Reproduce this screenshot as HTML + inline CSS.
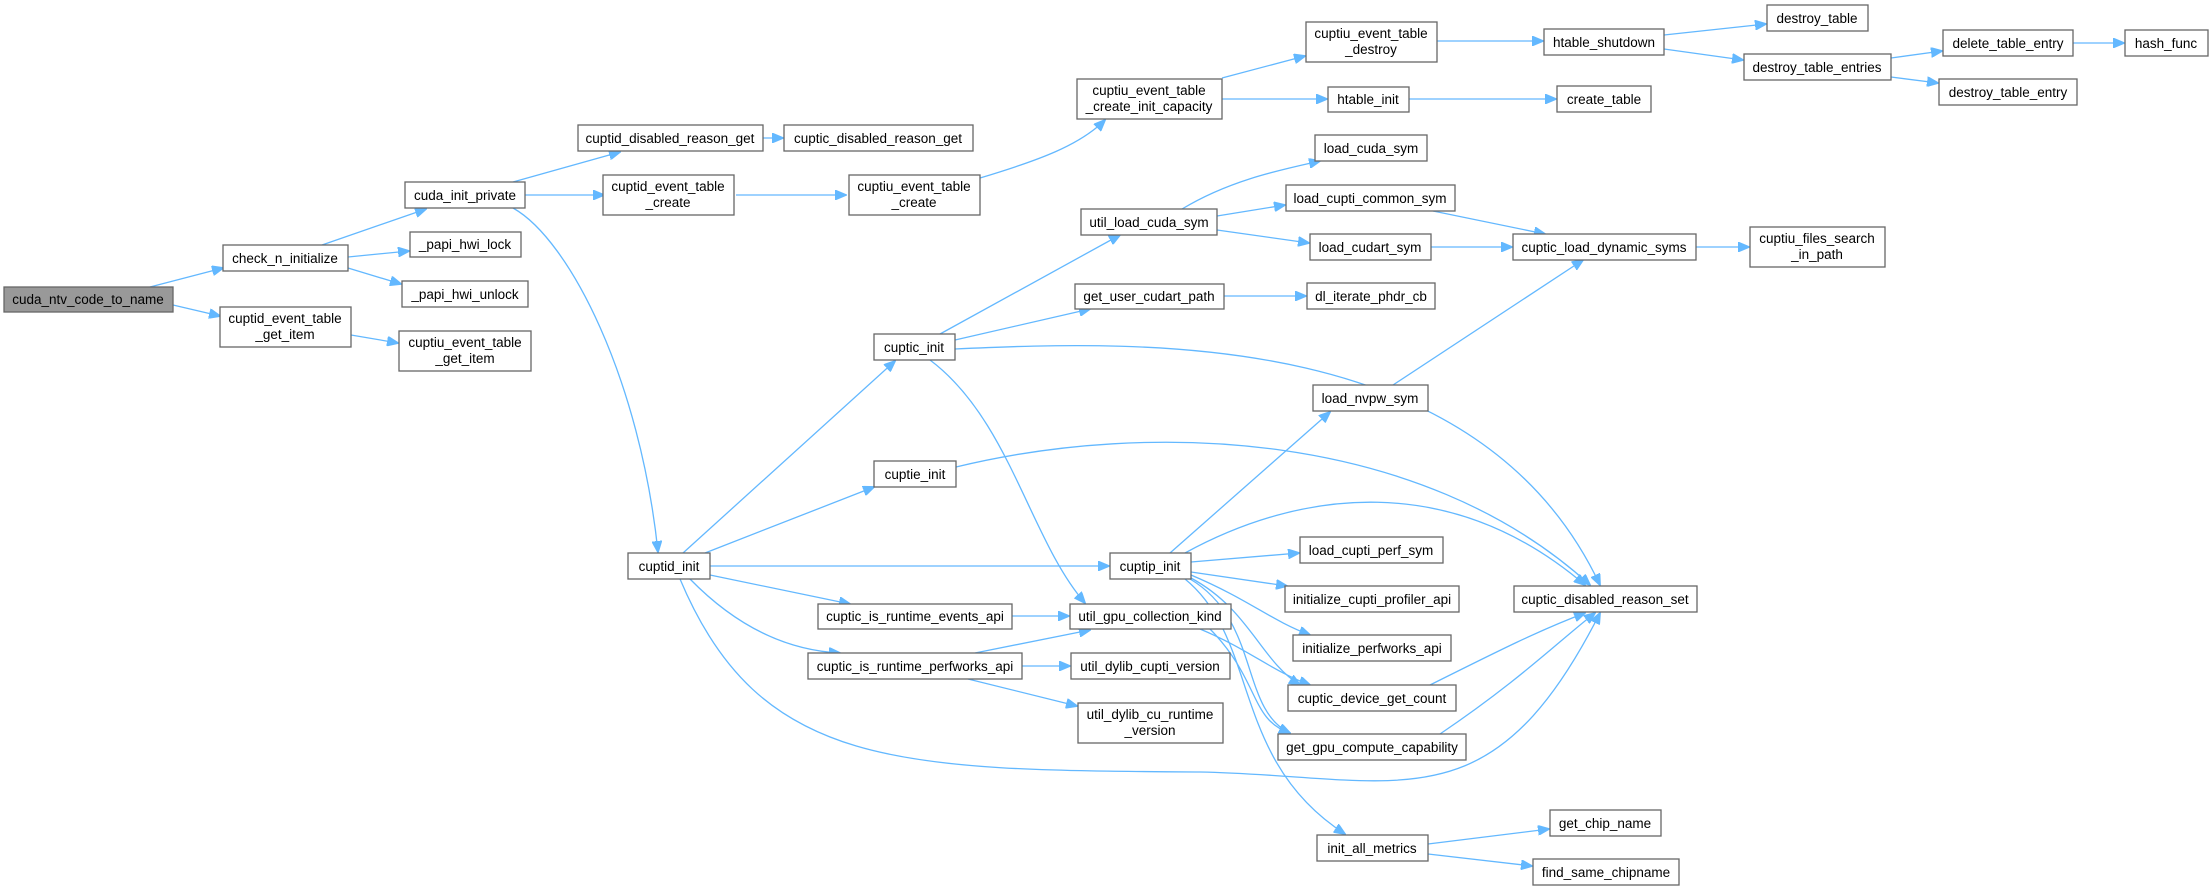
<!DOCTYPE html>
<html><head><meta charset="utf-8"><style>
html,body{margin:0;padding:0;background:#fff;}
svg{display:block;}
text{font-family:"Liberation Sans",Arial,sans-serif;font-size:13.5px;fill:#000;text-anchor:middle;}
.n rect{fill:#fff;stroke:#666;stroke-width:1.3;}
.e{fill:none;stroke:#63b8ff;stroke-width:1.3;marker-end:url(#a);}
</style></head><body>
<svg width="2211" height="891" viewBox="0 0 2211 891" xmlns="http://www.w3.org/2000/svg">
<defs><marker id="a" markerWidth="12" markerHeight="10" refX="11" refY="5" orient="auto" markerUnits="userSpaceOnUse"><path d="M0,0 L12,5 L0,10 z" fill="#63b8ff" stroke="#63b8ff"/></marker></defs>
<g>
<path class="e" d="M150,287 L223,268"/>
<path class="e" d="M173,305 L220,316"/>
<path class="e" d="M322,245 L426,209"/>
<path class="e" d="M348,257 L409,251"/>
<path class="e" d="M348,268 L401,284"/>
<path class="e" d="M351,335 L398,343"/>
<path class="e" d="M513,182 L620,152"/>
<path class="e" d="M525,195 L604,195"/>
<path class="e" d="M513,208 C570,240 640,380 658,552"/>
<path class="e" d="M763,138 L783,138"/>
<path class="e" d="M736,195 L846,195"/>
<path class="e" d="M980,178 C1040,160 1080,145 1105,120"/>
<path class="e" d="M1222,78 L1305,56"/>
<path class="e" d="M1222,99 L1327,99"/>
<path class="e" d="M1437,41 L1543,41"/>
<path class="e" d="M1409,99 L1556,99"/>
<path class="e" d="M1664,35 L1766,24"/>
<path class="e" d="M1664,49 L1743,60"/>
<path class="e" d="M1891,58 L1942,51"/>
<path class="e" d="M1891,77 L1938,83"/>
<path class="e" d="M2073,43 L2124,43"/>
<path class="e" d="M1182,209 C1230,180 1280,170 1320,161"/>
<path class="e" d="M1217,216 L1285,205"/>
<path class="e" d="M1217,230 L1309,243"/>
<path class="e" d="M1433,211 L1545,234"/>
<path class="e" d="M1431,247 L1512,247"/>
<path class="e" d="M1696,247 L1749,247"/>
<path class="e" d="M1224,296 L1306,296"/>
<path class="e" d="M1393,385 L1583,260"/>
<path class="e" d="M940,334 L1120,235"/>
<path class="e" d="M955,340 L1090,309"/>
<path class="e" d="M955,349 C1150,340 1480,330 1600,585"/>
<path class="e" d="M930,360 C1010,420 1030,540 1085,603"/>
<path class="e" d="M683,553 L895,361"/>
<path class="e" d="M705,553 L874,487"/>
<path class="e" d="M710,566 L1109,566"/>
<path class="e" d="M710,575 L850,604"/>
<path class="e" d="M690,579 C730,620 780,650 840,653"/>
<path class="e" d="M680,579 C760,770 900,770 1200,772 C1400,776 1490,830 1600,613"/>
<path class="e" d="M956,467 C1150,420 1420,430 1590,585"/>
<path class="e" d="M1170,553 L1330,412"/>
<path class="e" d="M1185,553 C1300,490 1450,470 1585,585"/>
<path class="e" d="M1191,562 L1299,553"/>
<path class="e" d="M1191,572 L1287,586"/>
<path class="e" d="M1191,575 C1250,600 1270,620 1310,635"/>
<path class="e" d="M1191,578 C1250,610 1260,660 1300,685"/>
<path class="e" d="M1190,579 C1260,620 1240,710 1290,733"/>
<path class="e" d="M1185,579 C1260,640 1230,760 1345,834"/>
<path class="e" d="M1012,616 L1069,616"/>
<path class="e" d="M975,653 L1090,630"/>
<path class="e" d="M1022,666 L1070,666"/>
<path class="e" d="M968,679 L1077,706"/>
<path class="e" d="M1200,629 C1250,650 1270,670 1310,685"/>
<path class="e" d="M1210,629 C1260,680 1250,720 1290,733"/>
<path class="e" d="M1430,685 C1500,650 1540,630 1585,613"/>
<path class="e" d="M1440,734 C1520,680 1560,640 1595,613"/>
<path class="e" d="M1428,844 L1549,829"/>
<path class="e" d="M1428,854 L1532,866"/>
</g>
<g class="n"><rect x="4" y="287" width="169" height="25" style="fill:#999"/><text x="88" y="304">cuda_ntv_code_to_name</text></g>
<g class="n"><rect x="223" y="245" width="125" height="26"/><text x="285" y="263">check_n_initialize</text></g>
<g class="n"><rect x="220" y="307" width="131" height="40"/><text x="285" y="323">cuptid_event_table</text><text x="285" y="339">_get_item</text></g>
<g class="n"><rect x="405" y="182" width="120" height="26"/><text x="465" y="200">cuda_init_private</text></g>
<g class="n"><rect x="410" y="232" width="111" height="25"/><text x="465" y="249">_papi_hwi_lock</text></g>
<g class="n"><rect x="402" y="281" width="126" height="26"/><text x="465" y="299">_papi_hwi_unlock</text></g>
<g class="n"><rect x="399" y="331" width="132" height="40"/><text x="465" y="347">cuptiu_event_table</text><text x="465" y="363">_get_item</text></g>
<g class="n"><rect x="578" y="125" width="185" height="26"/><text x="670" y="143">cuptid_disabled_reason_get</text></g>
<g class="n"><rect x="603" y="175" width="131" height="40"/><text x="668" y="191">cuptid_event_table</text><text x="668" y="207">_create</text></g>
<g class="n"><rect x="784" y="125" width="189" height="26"/><text x="878" y="143">cuptic_disabled_reason_get</text></g>
<g class="n"><rect x="849" y="175" width="131" height="40"/><text x="914" y="191">cuptiu_event_table</text><text x="914" y="207">_create</text></g>
<g class="n"><rect x="1077" y="79" width="145" height="40"/><text x="1149" y="95">cuptiu_event_table</text><text x="1149" y="111">_create_init_capacity</text></g>
<g class="n"><rect x="1306" y="22" width="131" height="40"/><text x="1371" y="38">cuptiu_event_table</text><text x="1371" y="54">_destroy</text></g>
<g class="n"><rect x="1544" y="29" width="120" height="26"/><text x="1604" y="47">htable_shutdown</text></g>
<g class="n"><rect x="1767" y="5" width="101" height="26"/><text x="1817" y="23">destroy_table</text></g>
<g class="n"><rect x="1744" y="54" width="147" height="26"/><text x="1817" y="72">destroy_table_entries</text></g>
<g class="n"><rect x="1943" y="30" width="130" height="26"/><text x="2008" y="48">delete_table_entry</text></g>
<g class="n"><rect x="2125" y="30" width="83" height="26"/><text x="2166" y="48">hash_func</text></g>
<g class="n"><rect x="1939" y="79" width="138" height="26"/><text x="2008" y="97">destroy_table_entry</text></g>
<g class="n"><rect x="1328" y="87" width="81" height="25"/><text x="1368" y="104">htable_init</text></g>
<g class="n"><rect x="1557" y="86" width="94" height="26"/><text x="1604" y="104">create_table</text></g>
<g class="n"><rect x="1315" y="135" width="112" height="26"/><text x="1371" y="153">load_cuda_sym</text></g>
<g class="n"><rect x="1286" y="185" width="169" height="26"/><text x="1370" y="203">load_cupti_common_sym</text></g>
<g class="n"><rect x="1081" y="209" width="136" height="26"/><text x="1149" y="227">util_load_cuda_sym</text></g>
<g class="n"><rect x="1310" y="234" width="121" height="26"/><text x="1370" y="252">load_cudart_sym</text></g>
<g class="n"><rect x="1513" y="234" width="183" height="26"/><text x="1604" y="252">cuptic_load_dynamic_syms</text></g>
<g class="n"><rect x="1750" y="227" width="135" height="40"/><text x="1817" y="243">cuptiu_files_search</text><text x="1817" y="259">_in_path</text></g>
<g class="n"><rect x="1075" y="284" width="149" height="25"/><text x="1149" y="301">get_user_cudart_path</text></g>
<g class="n"><rect x="1307" y="283" width="128" height="26"/><text x="1371" y="301">dl_iterate_phdr_cb</text></g>
<g class="n"><rect x="1313" y="385" width="115" height="26"/><text x="1370" y="403">load_nvpw_sym</text></g>
<g class="n"><rect x="874" y="334" width="81" height="26"/><text x="914" y="352">cuptic_init</text></g>
<g class="n"><rect x="874" y="461" width="82" height="26"/><text x="915" y="479">cuptie_init</text></g>
<g class="n"><rect x="628" y="553" width="82" height="26"/><text x="669" y="571">cuptid_init</text></g>
<g class="n"><rect x="1110" y="553" width="81" height="26"/><text x="1150" y="571">cuptip_init</text></g>
<g class="n"><rect x="1300" y="537" width="143" height="26"/><text x="1371" y="555">load_cupti_perf_sym</text></g>
<g class="n"><rect x="1285" y="586" width="174" height="26"/><text x="1372" y="604">initialize_cupti_profiler_api</text></g>
<g class="n"><rect x="1514" y="586" width="183" height="26"/><text x="1605" y="604">cuptic_disabled_reason_set</text></g>
<g class="n"><rect x="818" y="604" width="194" height="25"/><text x="915" y="621">cuptic_is_runtime_events_api</text></g>
<g class="n"><rect x="1070" y="604" width="161" height="25"/><text x="1150" y="621">util_gpu_collection_kind</text></g>
<g class="n"><rect x="1293" y="635" width="158" height="26"/><text x="1372" y="653">initialize_perfworks_api</text></g>
<g class="n"><rect x="808" y="653" width="214" height="26"/><text x="915" y="671">cuptic_is_runtime_perfworks_api</text></g>
<g class="n"><rect x="1071" y="653" width="159" height="26"/><text x="1150" y="671">util_dylib_cupti_version</text></g>
<g class="n"><rect x="1078" y="703" width="145" height="40"/><text x="1150" y="719">util_dylib_cu_runtime</text><text x="1150" y="735">_version</text></g>
<g class="n"><rect x="1288" y="685" width="168" height="26"/><text x="1372" y="703">cuptic_device_get_count</text></g>
<g class="n"><rect x="1278" y="734" width="188" height="26"/><text x="1372" y="752">get_gpu_compute_capability</text></g>
<g class="n"><rect x="1317" y="835" width="111" height="26"/><text x="1372" y="853">init_all_metrics</text></g>
<g class="n"><rect x="1550" y="810" width="111" height="26"/><text x="1605" y="828">get_chip_name</text></g>
<g class="n"><rect x="1533" y="859" width="146" height="26"/><text x="1606" y="877">find_same_chipname</text></g>
</svg>
</body></html>
